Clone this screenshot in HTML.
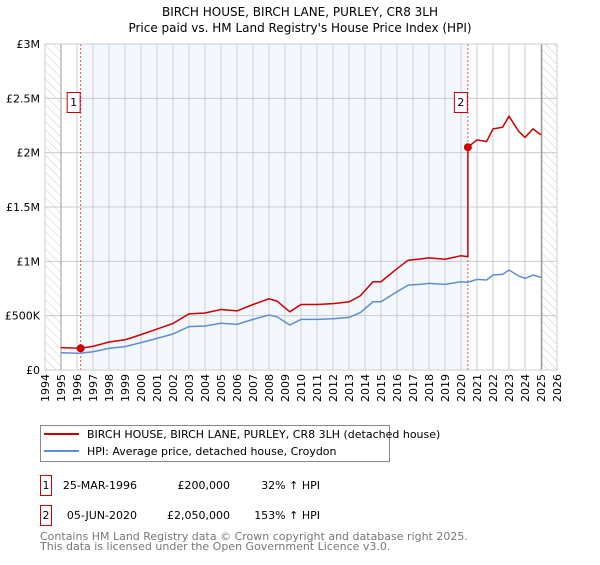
<!DOCTYPE html>
<html><head><meta charset="utf-8"><style>
body{margin:0;background:#fff;font-family:"Liberation Sans","DejaVu Sans",sans-serif;}
svg text{font-family:"DejaVu Sans","Liberation Sans",sans-serif;}
</style></head><body>
<svg id="c" width="600" height="560" viewBox="0 0 600 560">
<defs><pattern id="hatch" width="6" height="6" patternUnits="userSpaceOnUse" patternTransform="rotate(-45)"><line x1="0" y1="0" x2="0" y2="6" stroke="#ccc" stroke-width="1"/></pattern></defs>
<text x="300" y="16" text-anchor="middle" font-size="12">BIRCH HOUSE, BIRCH LANE, PURLEY, CR8 3LH</text>
<text x="300" y="32" text-anchor="middle" font-size="12">Price paid vs. HM Land Registry's House Price Index (HPI)</text>
<g id="plot"></g>
<g>
<rect x="40.5" y="425.5" width="349" height="36" fill="#fff" stroke="#888"/>
<line x1="44" y1="434" x2="79" y2="434" stroke="#cc0000" stroke-width="2"/>
<text x="87" y="438" font-size="11">BIRCH HOUSE, BIRCH LANE, PURLEY, CR8 3LH (detached house)</text>
<line x1="44" y1="451" x2="79" y2="451" stroke="#5b8fd0" stroke-width="2"/>
<text x="87" y="455" font-size="11">HPI: Average price, detached house, Croydon</text>
</g>
<g font-size="11">
<rect x="40.5" y="475.5" width="11" height="20" fill="#fff" stroke="#cc0000"/><text x="46" y="489" text-anchor="middle">1</text>
<text x="137" y="489" text-anchor="end">25-MAR-1996</text><text x="230" y="489" text-anchor="end">£200,000</text><text x="320" y="489" text-anchor="end">32% ↑ HPI</text>
<rect x="40.5" y="505.5" width="11" height="20" fill="#fff" stroke="#cc0000"/><text x="46" y="519" text-anchor="middle">2</text>
<text x="137" y="519" text-anchor="end">05-JUN-2020</text><text x="230" y="519" text-anchor="end">£2,050,000</text><text x="320" y="519" text-anchor="end">153% ↑ HPI</text>
</g>
<text x="40" y="540" font-size="11" fill="#777">Contains HM Land Registry data © Crown copyright and database right 2025.</text>
<text x="40" y="550" font-size="11" fill="#777">This data is licensed under the Open Government Licence v3.0.</text>
</svg>
<script>
const years=[1995,1996.2,1997,1998,1999,2000,2001,2002,2003,2004,2005,2006,2007,2008,2008.5,2009.3,2010,2011,2012,2013,2013.7,2014.5,2015,2016,2016.7,2017.5,2018,2019,2020,2020.4,2021,2021.6,2022,2022.6,2023,2023.6,2024,2024.5,2025];
const hpi=[159,154,168,199,215,252,291,331,399,405,430,420,466,506,490,414,466,466,472,484,527,628,628,720,781,790,797,788,812,806,834,828,874,880,920,865,843,874,852];
const saleYears=[1996.23,2020.43];
const salePrices=[200,2050];
const yTicks=[0,500,1000,1500,2000,2500,3000];
const yTickLabels=["£0","£500K","£1M","£1.5M","£2M","£2.5M","£3M"];
const NS='http://www.w3.org/2000/svg';
const X0=45,X1=557,Y0=370,Y1=44,xmin=1994,xmax=2026,ymax=3000;
const sx=v=>X0+(v-xmin)/(xmax-xmin)*(X1-X0);
const sy=v=>Y0-v/ymax*(Y0-Y1);
const g=document.getElementById('plot');
function mk(t,a){const e=document.createElementNS(NS,t);for(const k in a)e.setAttribute(k,a[k]);g.appendChild(e);return e;}
function hpiAt(t){if(t<=years[0])return hpi[0];for(let i=1;i<years.length;i++){if(t<=years[i]){const f=(t-years[i-1])/(years[i]-years[i-1]);return hpi[i-1]+f*(hpi[i]-hpi[i-1]);}}return hpi[hpi.length-1];}
let e;
e=mk('rect',{x:sx(saleYears[0]),y:Y1,width:sx(saleYears[1])-sx(saleYears[0]),height:Y0-Y1,fill:'#f3f7fe'});


e=mk('rect',{x:X0,y:Y1,width:sx(1995)-X0,height:Y0-Y1,fill:'url(#hatch)'});


e=mk('rect',{x:sx(2025.1),y:Y1,width:X1-sx(2025.1),height:Y0-Y1,fill:'url(#hatch)'});


for(let y=xmin;y<=xmax;y++){
 e=mk('line',{x1:sx(y),x2:sx(y),y1:Y1,y2:Y0,stroke:'#ccc','stroke-width':1});
 
 
 const tx=sx(y)+4,ty=374;
 e=mk('text',{x:tx,y:ty,'font-size':11,'text-anchor':'end',transform:'rotate(-90 '+tx+' '+ty+')'});e.textContent=y;
 
 
}
yTicks.forEach((v,i)=>{
 e=mk('line',{x1:X0,x2:X1,y1:sy(v),y2:sy(v),stroke:'#ccc','stroke-width':1});
 
 
 e=mk('text',{x:40,y:sy(v)+4,'font-size':11,'text-anchor':'end'});e.textContent=yTickLabels[i];
 
 
});
e=mk('line',{x1:sx(1995),x2:sx(1995),y1:Y1,y2:Y0,stroke:'#999','stroke-width':1});


e=mk('line',{x1:sx(2025.05),x2:sx(2025.05),y1:Y1,y2:Y0,stroke:'#888','stroke-width':1});


saleYears.forEach((t,i)=>{
 e=mk('line',{x1:sx(t),x2:sx(t),y1:Y1,y2:Y0,stroke:'#e05050','stroke-width':1,'stroke-dasharray':'2,2'});
 
 
});
let d='';years.forEach((t,i)=>{d+=(i?'L':'M')+sx(t).toFixed(1)+','+sy(hpi[i]).toFixed(1);});
e=mk('path',{d:d,fill:'none',stroke:'#5b8fd0','stroke-width':1.5});


const pts=[];
const r0=salePrices[0]/hpiAt(saleYears[0]),r1=salePrices[1]/hpiAt(saleYears[1]);
years.forEach((t,i)=>{if(t<saleYears[1])pts.push([t,hpi[i]*r0]);});
pts.push([saleYears[1],hpiAt(saleYears[1])*r0]);
pts.push([saleYears[1],salePrices[1]]);
years.forEach((t,i)=>{if(t>saleYears[1])pts.push([t,hpi[i]*r1]);});
d='';pts.forEach((p,i)=>{d+=(i?'L':'M')+sx(p[0]).toFixed(1)+','+sy(p[1]).toFixed(1);});
e=mk('path',{d:d,fill:'none',stroke:'#cc0000','stroke-width':1.5});


saleYears.forEach((t,i)=>{
 e=mk('circle',{cx:sx(t),cy:sy(salePrices[i]),r:4,fill:'#cc0000'});
 
 
 e=mk('rect',{x:sx(t)-13.5,y:92.5,width:13,height:20,fill:'#fff',stroke:'#cc0000'});
 
 
 e=mk('text',{x:sx(t)-7,y:106,'font-size':11,'text-anchor':'middle'});e.textContent=i+1;
 
 
});
e=mk('rect',{x:X0,y:Y1,width:X1-X0,height:Y0-Y1,fill:'none',stroke:'#ccc'});


</script>
</body></html>
